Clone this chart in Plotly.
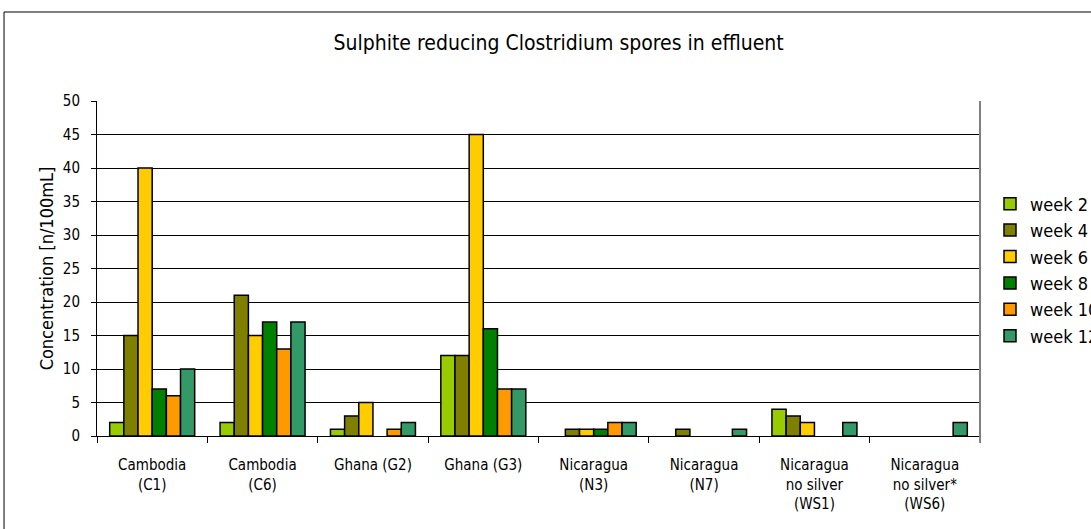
import plotly.graph_objects as go

# Sampling sites (category axis labels)
sites = [
    "Cambodia<br>(C1)",
    "Cambodia<br>(C6)",
    "Ghana (G2)",
    "Ghana (G3)",
    "Nicaragua<br>(N3)",
    "Nicaragua<br>(N7)",
    "Nicaragua<br>no silver<br>(WS1)",
    "Nicaragua<br>no silver*<br>(WS6)",
]

# Spore counts per sampling week [n/100mL]
week_2 = [2, 2, 1, 12, 0, 0, 4, 0]
week_4 = [15, 21, 3, 12, 1, 1, 3, 0]
week_6 = [40, 15, 5, 45, 1, 0, 2, 0]
week_8 = [7, 17, 0, 16, 1, 0, 0, 0]
week_10 = [6, 13, 1, 7, 2, 0, 0, 0]
week_12 = [10, 17, 2, 7, 2, 1, 2, 2]

series = [
    ("week 2", week_2, "#99cc00"),
    ("week 4", week_4, "#808000"),
    ("week 6", week_6, "#ffcc00"),
    ("week 8", week_8, "#008000"),
    ("week 10", week_10, "#ff9900"),
    ("week 12", week_12, "#339966"),
]

y_ticks = [0, 5, 10, 15, 20, 25, 30, 35, 40, 45, 50]

font_narrow = "DejaVu Sans Condensed, DejaVu Sans, sans-serif"

fig = go.Figure()
for name, vals, color in series:
    # empty bars get no outline so nothing is drawn on the baseline
    widths = [1.5 if v > 0 else 0 for v in vals]
    fig.add_trace(go.Bar(
        name=name,
        x=sites,
        y=vals,
        marker=dict(color=color, line=dict(color="#000000", width=widths)),
    ))

fig.update_layout(
    width=1091,
    height=529,
    paper_bgcolor="white",
    plot_bgcolor="white",
    barmode="group",
    bargap=0.23,
    bargroupgap=0,
    margin=dict(l=97, r=111, t=101, b=93, autoexpand=False),
    title=dict(
        text="Sulphite reducing Clostridium spores in effluent",
        x=0.512, xref="container", xanchor="center",
        y=1 - 43 / 529, yref="container", yanchor="middle",
        font=dict(family=font_narrow, size=21, color="#000000"),
    ),
    font=dict(family=font_narrow, size=15, color="#000000"),
    showlegend=True,
    legend=dict(
        xref="container", yref="container",
        x=990 / 1091, xanchor="left",
        y=1 - 270 / 529, yanchor="middle",
        font=dict(family=font_narrow, size=18, color="#000000"),
        bgcolor="rgba(0,0,0,0)",
        tracegroupgap=0,
        itemwidth=30,
    ),
    xaxis=dict(
        type="category",
        showline=True, linecolor="#000000", linewidth=1,
        ticks="outside", tickson="boundaries", ticklen=6, tickcolor="#000000",
        showgrid=False,
        ticklabelstandoff=15,
        tickfont=dict(family=font_narrow, size=15),
    ),
    yaxis=dict(
        range=[0, 50],
        tickvals=y_ticks,
        showline=True, linecolor="#000000", linewidth=1,
        ticks="outside", ticklen=5, tickcolor="#000000",
        showgrid=True, gridcolor="#000000", gridwidth=1,
        zeroline=False,
        ticklabelstandoff=8,
        tickfont=dict(family=font_narrow, size=15),
        title=dict(text="Concentration [n/100mL]", font=dict(family=font_narrow, size=18), standoff=4),
    ),
    shapes=[
        # plot-area right edge
        dict(type="line", xref="paper", yref="paper", x0=1, x1=1, y0=-0.02, y1=1,
             line=dict(color="#808080", width=2)),
        # outer chart frame
        dict(type="rect", xref="paper", yref="paper",
             x0=-0.1053, x1=1.3, y0=-0.4, y1=1.2657,
             line=dict(color="#000000", width=1), layer="below"),
    ],
)

fig.write_html("out.html")
